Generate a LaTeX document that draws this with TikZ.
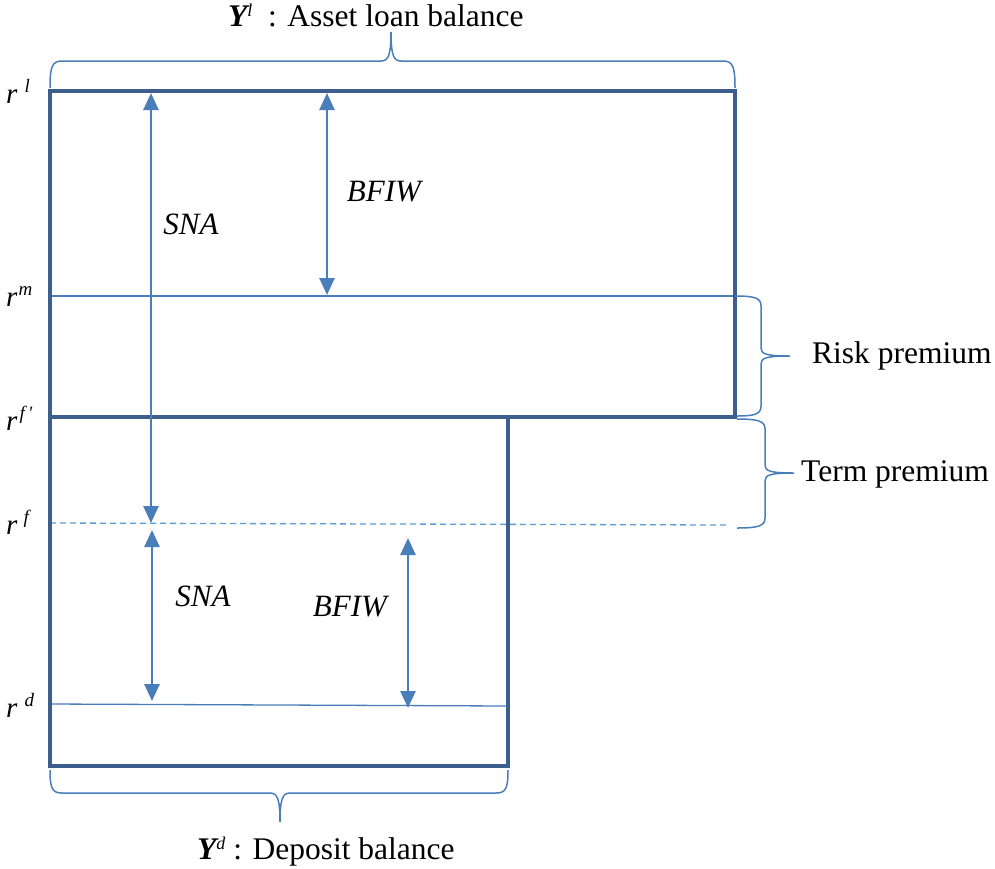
\documentclass[tikz,border=0pt]{standalone}
\usepackage{fontspec}
\setmainfont{Liberation Serif}
\usetikzlibrary{arrows.meta}
\definecolor{frameblue}{HTML}{3C5F8E}
\definecolor{lineblue}{HTML}{4A7EBB}
\definecolor{dashblue}{HTML}{5B9BD5}
\newcommand{\myrate}[2]{\textit{r}\hspace{#2}\raisebox{11pt}{\fontsize{19}{20}\selectfont\itshape #1}}
\tikzset{
  frame/.style={draw=frameblue,line width=4.5pt,line join=miter},
  rateline/.style={draw=lineblue,line width=1.3pt},
  dashline/.style={draw=dashblue,line width=1.3pt,dash pattern=on 6pt off 4pt},
  bracepath/.style={draw=lineblue,line width=1.5pt},
  dimarrow/.style={draw=lineblue,line width=2.6pt,{Triangle[width=15pt,length=17pt]}-{Triangle[width=15pt,length=17pt]}},
  ratelabel/.style={inner sep=0pt,anchor=base west,font=\fontsize{29}{32}\selectfont},
  itlabel/.style={inner sep=0pt,font=\fontsize{31}{36}\selectfont\itshape},
  txtlabel/.style={inner sep=0pt,font=\fontsize{31.5}{36}\selectfont}
}
\begin{document}
\begin{tikzpicture}[x=1pt,y=-1pt]
\useasboundingbox (0,0) rectangle (995,868);
% coordinates
\coordinate (tl) at (50,91);
\coordinate (tr) at (735,91);
\coordinate (mr) at (735,417);
\coordinate (ml) at (50,417);
\coordinate (mc) at (508,417);
\coordinate (bl) at (50,766);
\coordinate (br) at (508,766);
% rate lines
\coordinate (rmL) at (50,296);
\coordinate (rmR) at (735,296);
\coordinate (rfL) at (50,523);
\coordinate (rfR) at (728,525);
\coordinate (rdL) at (50,704);
\coordinate (rdR) at (508,706);
\draw[rateline] (rmL) -- (rmR);
\draw[dashline] (rfL) -- (rfR);
\draw[rateline] (rdL) -- (rdR);
% frame
\draw[frame] (tl) -- (tr) -- (mr) -- (mc) -- (br) -- (bl) -- cycle;
\draw[frame] (ml) -- (mr);
% arrows
\coordinate (sna1t) at (151,93);
\coordinate (sna1b) at (151,523);
\coordinate (sna2t) at (152,530);
\coordinate (sna2b) at (152,701);
\coordinate (bf1t) at (327,93);
\coordinate (bf1b) at (327,295);
\coordinate (bf2t) at (408,538);
\coordinate (bf2b) at (408,708);
\draw[dimarrow] (sna1t) -- (sna1b);
\draw[dimarrow] (sna2t) -- (sna2b);
\draw[dimarrow] (bf1t) -- (bf1b);
\draw[dimarrow] (bf2t) -- (bf2b);
% arrow labels
\node[itlabel] (snaA) at (191,224) {SNA};
\node[itlabel] (bfiwA) at (384,192) {BFIW};
\node[itlabel] (snaB) at (203,596) {SNA};
\node[itlabel] (bfiwB) at (350,607) {BFIW};
% rate labels
\node[ratelabel] (lrl) at (6,103) {\myrate{l}{7pt}};
\node[ratelabel] (lrm) at (6,306) {\myrate{m}{1pt}};
\node[ratelabel] (lrfp) at (6,430) {\myrate{f\,\textquotesingle}{2pt}};
\node[ratelabel] (lrf) at (6,534) {\myrate{f}{6pt}};
\node[ratelabel] (lrd) at (6,717) {\myrate{d}{7pt}};
% top brace
\draw[bracepath] (50,88) .. controls (50,67) and (52,61) .. (62,61) -- (381,61)
  .. controls (388,61) and (391,56) .. (391,32)
  .. controls (391,56) and (394,61) .. (401,61) -- (723,61)
  .. controls (733,61) and (735,67) .. (735,88);
% bottom brace
\draw[bracepath] (50,770) .. controls (50,788) and (52,793) .. (62,793) -- (270,793)
  .. controls (277,793) and (280,798) .. (280,822)
  .. controls (280,798) and (283,793) .. (290,793) -- (496,793)
  .. controls (506,793) and (508,788) .. (508,770);
% risk premium brace
\draw[bracepath] (735,296) .. controls (755,296) and (761,298) .. (761,306) -- (761,348)
  .. controls (761,354) and (766,356) .. (790,356)
  .. controls (766,356) and (761,358) .. (761,364) -- (761,406)
  .. controls (761,414) and (755,416) .. (737,416);
% term premium brace
\draw[bracepath] (737,419) .. controls (758,419) and (765,421) .. (765,429) -- (765,465)
  .. controls (765,471) and (770,473) .. (794,473)
  .. controls (770,473) and (765,475) .. (765,481) -- (765,518)
  .. controls (765,526) and (758,528) .. (737,528);
% texts
\node[txtlabel,anchor=west] (risk) at (812,356) {Risk premium};
\node[txtlabel,anchor=west] (term) at (801,474) {Term premium};
\node[txtlabel,anchor=base west] (yl) at (228,26) {{\bfseries\itshape Y}\raisebox{10pt}{\fontsize{18}{20}\selectfont\itshape l}\ \ : Asset loan balance};
\node[txtlabel,anchor=base west] (yd) at (197,859) {{\bfseries\itshape Y}\raisebox{10pt}{\fontsize{18}{20}\selectfont\itshape d}\ : Deposit balance};
\end{tikzpicture}
\end{document}
